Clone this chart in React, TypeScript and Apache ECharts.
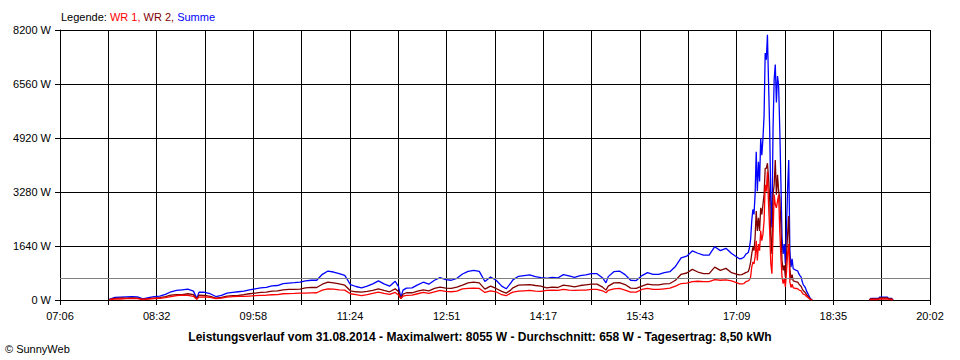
import React, { useEffect, useRef } from "react";
import * as echarts from "echarts";

const TIMES = [
  "07:50","07:55","08:00","08:05","08:10","08:15","08:20","08:25","08:30","08:35",
  "08:40","08:45","08:50","08:55","09:00","09:05","09:08","09:10","09:15","09:20",
  "09:25","09:30","09:35","09:40","09:45","09:50","09:55","10:00","10:05","10:10",
  "10:15","10:20","10:25","10:30","10:35","10:40","10:45","10:50","10:55","11:00",
  "11:05","11:10","11:15","11:20","11:25","11:30","11:35","11:40","11:45","11:50",
  "11:55","12:00","12:05","12:08","12:10","12:12","12:15","12:20","12:25","12:30",
  "12:35","12:40","12:45","12:50","12:55","13:00","13:05","13:10","13:15","13:20",
  "13:25","13:30","13:35","13:40","13:44","13:48","13:50","13:55","14:00","14:05",
  "14:10","14:15","14:20","14:25","14:30","14:35","14:40","14:45","14:50","14:55",
  "15:00","15:05","15:10","15:13","15:15","15:20","15:25","15:30","15:35","15:40",
  "15:45","15:50","15:55","16:00","16:05","16:10","16:15","16:20","16:25","16:30",
  "16:35","16:40","16:45","16:50","16:55","17:00","17:05","17:10","17:12","17:14",
  "17:16","17:18","17:19","17:20","17:21","17:22","17:23","17:24","17:25","17:26",
  "17:27","17:28","17:29","17:30","17:31","17:32","17:33","17:34","17:35","17:36",
  "17:37","17:38","17:39","17:40","17:41","17:42","17:43","17:44","17:45","17:46",
  "17:47","17:48","17:49","17:50","17:51","17:52","17:53","17:54","17:55","17:56",
  "17:57","17:58","17:59","18:00","18:01","18:02","18:03","18:04","18:05","18:06",
  "18:07","18:08","18:09","18:10","18:11","18:12","18:13","18:14","18:15","18:16",
  "18:17","18:18","19:08","19:09","19:16","19:17","19:24","19:25","19:28","19:29"
];

const WR1 = [
  10,30,30,40,40,40,15,30,45,50,
  70,100,130,150,140,110,20,90,95,80,
  45,60,90,100,110,110,120,130,140,145,
  160,165,190,195,200,210,210,215,220,300,
  340,330,310,300,190,160,130,160,200,240,
  200,170,230,150,40,120,140,150,190,230,
  200,250,290,260,250,270,340,350,360,350,
  230,280,250,160,130,210,240,270,280,290,
  270,260,290,300,290,320,300,290,300,300,
  320,320,280,220,290,340,350,300,240,240,
  320,350,320,320,340,360,420,500,510,560,
  570,560,560,620,600,610,580,520,490,490,
  500,560,570,580,620,700,1000,1150,1100,1300,
  1800,1200,1700,1500,2100,1800,2000,2400,3500,3300,
  3900,2900,2100,1100,800,2000,3200,2900,2800,3000,
  3200,2100,1300,700,500,650,400,850,1400,1700,
  550,380,480,370,360,350,350,340,310,290,
  280,220,180,170,145,105,80,50,25,8,
  0,null,0,15,15,30,30,15,15,0
];

const WR2 = [
  10,50,60,55,60,55,20,40,60,70,
  100,150,160,160,190,160,30,150,140,110,
  60,80,120,130,140,160,190,210,230,240,
  270,275,310,320,325,330,370,385,380,480,
  540,520,490,450,280,250,240,260,290,340,
  290,250,340,250,40,180,220,220,270,310,
  280,350,390,360,350,390,450,520,540,520,
  330,420,350,260,210,300,370,450,460,470,
  440,420,370,390,380,450,430,400,440,460,
  480,480,390,300,420,520,530,470,360,350,
  420,480,460,460,490,500,600,780,820,930,
  850,800,800,1000,900,960,830,780,760,770,
  800,840,850,870,980,1150,1400,1600,1500,1900,
  2700,2100,2500,2100,2800,2600,2900,3200,4000,4000,
  4155,3700,3100,1900,1400,3200,3500,4250,3200,3800,
  3300,3100,2300,1200,900,1050,700,1350,2000,2550,
  950,620,770,580,570,560,550,540,490,450,
  420,340,280,250,215,155,120,80,35,12,
  0,null,0,30,30,60,60,30,30,0
];

const SUMME = [
  20,80,90,95,100,95,35,70,105,120,
  170,250,290,310,330,270,50,240,235,190,
  105,140,210,230,250,270,310,340,370,385,
  430,440,500,515,525,540,580,600,600,780,
  880,850,800,750,470,410,370,420,490,580,
  490,420,570,400,80,300,360,370,460,540,
  480,600,680,620,600,660,790,870,900,870,
  560,700,600,420,340,510,610,720,740,760,
  710,680,660,690,670,770,730,690,740,760,
  800,800,670,520,710,860,880,770,600,590,
  740,830,780,780,830,860,1020,1280,1330,1490,
  1420,1360,1360,1620,1500,1570,1410,1300,1250,1260,
  1300,1400,1420,1450,1600,1850,2400,2750,2600,3200,
  4500,3300,4200,3600,4900,4400,4900,5600,7500,7300,
  8055,6600,5200,3000,2200,5200,6700,7150,6000,6800,
  6500,5200,3600,1900,1400,1700,1100,2200,3400,4250,
  1500,1000,1250,950,930,910,900,880,800,740,
  700,560,460,420,360,260,200,130,60,20,
  0,null,0,45,45,90,90,45,45,0
];

const X_TICK_LABELS = ["07:06","08:32","09:58","11:24","12:51","14:17","15:43","17:09","18:35","20:02"];
const AXIS_START = "07:06";
const AXIS_END = "20:02";
const X_STEPS = 18;
const Y_MAX = 8200;
const Y_STEP = 1640;
const AVERAGE = 658;

const LEGEND_PREFIX = "Legende: ";
const SERIES_NAMES = ["WR 1", "WR 2", "Summe"];
const TITLE = "Leistungsverlauf vom 31.08.2014 - Maximalwert: 8055 W - Durchschnitt: 658 W - Tagesertrag: 8,50 kWh";
const COPYRIGHT = "© SunnyWeb";

const COLORS = { wr1: "#ff0000", wr2: "#800000", sum: "#0000ff" };
const FONT = "Liberation Sans, Arial, sans-serif";

function toMin(t: string): number {
  const [h, m] = t.split(":").map(Number);
  return h * 60 + m;
}
const START = toMin(AXIS_START);
const STEP_MIN = (toMin(AXIS_END) - START) / X_STEPS;
const toX = (t: string) => (toMin(t) - START) / STEP_MIN;

function pairs(arr: (number | null)[]) {
  return TIMES.map((t, i) => [toX(t), arr[i] === null ? null : arr[i]]);
}

export default function App() {
  const ref = useRef<HTMLDivElement>(null);
  useEffect(() => {
    if (!ref.current) return;
    const chart = echarts.init(ref.current, undefined, { renderer: "svg" });
    const lineSeries = (name: string, data: (number | null)[], color: string, extra: any = {}) => ({
      name,
      type: "line",
      data: pairs(data),
      showSymbol: false,
      symbol: "none",
      connectNulls: false,
      lineStyle: { color, width: 1.3 },
      itemStyle: { color },
      ...extra,
    });
    chart.setOption({
      animation: false,
      backgroundColor: "#ffffff",
      grid: { left: 60, right: 30, top: 30, bottom: 60 },
      xAxis: {
        type: "value",
        min: 0,
        max: X_STEPS,
        interval: 1,
        axisLine: { show: true, lineStyle: { color: "#000", width: 1 } },
        axisTick: { show: true, length: 5, lineStyle: { color: "#000", width: 1 } },
        splitLine: { show: true, lineStyle: { color: "#000", width: 1 } },
        axisLabel: {
          color: "#000",
          fontSize: 11,
          fontFamily: FONT,
          margin: 10,
          formatter: (v: number) => {
            const i = Math.round(v);
            return i % 2 === 0 ? X_TICK_LABELS[i / 2] ?? "" : "";
          },
        },
      },
      yAxis: {
        type: "value",
        min: 0,
        max: Y_MAX,
        interval: Y_STEP,
        axisLine: { show: true, lineStyle: { color: "#000", width: 1 } },
        axisTick: { show: true, length: 5, lineStyle: { color: "#000", width: 1 } },
        splitLine: { show: true, lineStyle: { color: "#000", width: 1 } },
        axisLabel: {
          color: "#000",
          fontSize: 11,
          fontFamily: FONT,
          margin: 9,
          formatter: (v: number) => `${v} W`,
        },
      },
      series: [
        lineSeries(SERIES_NAMES[2], SUMME, COLORS.sum, {
          markLine: {
            silent: true,
            symbol: "none",
            label: { show: false },
            lineStyle: { color: "#808080", width: 1, type: "solid" },
            data: [{ yAxis: AVERAGE }],
          },
        }),
        lineSeries(SERIES_NAMES[1], WR2, COLORS.wr2),
        lineSeries(SERIES_NAMES[0], WR1, COLORS.wr1),
      ],
      graphic: [
        {
          type: "text",
          left: 61,
          top: 11,
          style: {
            text: `{k|${LEGEND_PREFIX}}{a|${SERIES_NAMES[0]}, }{b|${SERIES_NAMES[1]}, }{c|${SERIES_NAMES[2]}}`,
            font: `11px ${FONT}`,
            rich: {
              k: { fill: "#000", fontSize: 11, fontFamily: FONT },
              a: { fill: COLORS.wr1, fontSize: 11, fontFamily: FONT },
              b: { fill: COLORS.wr2, fontSize: 11, fontFamily: FONT },
              c: { fill: COLORS.sum, fontSize: 11, fontFamily: FONT },
            },
          },
        },
        {
          type: "text",
          x: 480,
          y: 337,
          style: {
            text: TITLE,
            fill: "#000",
            font: `bold 12px ${FONT}`,
            textAlign: "center",
            textVerticalAlign: "middle",
          },
        },
        {
          type: "text",
          x: 5,
          y: 349,
          style: {
            text: COPYRIGHT,
            fill: "#000",
            font: `11px ${FONT}`,
            textAlign: "left",
            textVerticalAlign: "middle",
          },
        },
      ],
    });
    return () => chart.dispose();
  }, []);
  return (
    <div
      ref={ref}
      style={{ position: "fixed", left: 0, top: 0, width: 960, height: 360, background: "#fff" }}
    />
  );
}
